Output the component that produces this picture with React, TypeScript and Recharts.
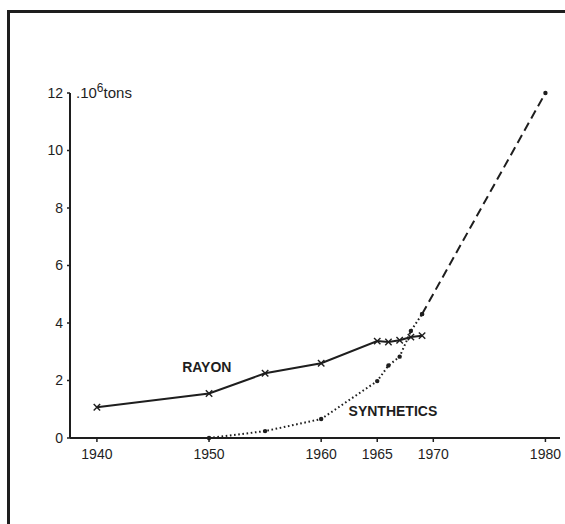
import React from "react";
import { LineChart, Line, XAxis, YAxis, ReferenceDot } from "recharts";

const years = [1940, 1950, 1955, 1960, 1965, 1966, 1967, 1968, 1969, 1980];
const rayon = [1.07, 1.55, 2.25, 2.6, 3.37, 3.34, 3.4, 3.51, 3.56, null];
const synthetics = [null, 0.0, 0.24, 0.66, 1.98, 2.52, 2.83, 3.72, 4.31, null];
const projection = [null, null, null, null, null, null, null, null, 4.31, 12];

const xTicks = [1940, 1950, 1960, 1965, 1970, 1980];
const yTicks = [0, 2, 4, 6, 8, 10, 12];

const data = years.map((year, i) => ({
  year,
  rayon: rayon[i],
  synthetics: synthetics[i],
  projection: projection[i],
}));

const FONT = "'Liberation Sans Narrow', 'Liberation Sans', sans-serif";
const INK = "#1e1e1e";

const CrossDot = (props: any) => {
  const { cx, cy } = props;
  if (cx == null || cy == null || props.value == null) return null;
  const s = 3.2;
  return (
    <g>
      <line x1={cx - s} y1={cy - s} x2={cx + s} y2={cy + s} stroke={INK} strokeWidth={1.4} />
      <line x1={cx - s} y1={cy + s} x2={cx + s} y2={cy - s} stroke={INK} strokeWidth={1.4} />
    </g>
  );
};

const SmallDot = (props: any) => {
  const { cx, cy } = props;
  if (cx == null || cy == null || props.value == null) return null;
  return <circle cx={cx} cy={cy} r={2.2} fill={INK} />;
};

const UnitLabel = (props: any) => {
  const vb = props.viewBox || {};
  const x = (vb.x ?? 0) + 6;
  const y = (vb.y ?? 0) + 5;
  return (
    <text x={x} y={y} fontFamily={FONT} fontSize={15} fill={INK}>
      .10
      <tspan dy={-6} fontSize={12}>6</tspan>
      <tspan dy={6}>tons</tspan>
    </text>
  );
};

export default function App() {
  return (
    <div style={{ position: "absolute", left: 0, top: 0, width: 565, height: 524, background: "#fff", overflow: "hidden" }}>
      <svg width={565} height={524} style={{ position: "absolute", left: 0, top: 0 }}>
        <path d="M 8.5 524 V 11.5 H 565" fill="none" stroke={INK} strokeWidth={3} />
      </svg>
      <div style={{ position: "absolute", left: 0, top: 0 }}>
        <LineChart
          width={565}
          height={524}
          data={data}
          margin={{ top: 93, right: 5, bottom: 46, left: 10 }}
        >
          <XAxis
            dataKey="year"
            type="number"
            domain={[1937.6, 1981.3]}
            ticks={xTicks}
            tickSize={4}
            tickMargin={7}
            height={40}
            axisLine={{ stroke: INK, strokeWidth: 2 }}
            tickLine={{ stroke: INK, strokeWidth: 1.5 }}
            tick={{ fontFamily: FONT, fontSize: 14, fill: INK }}
          />
          <YAxis
            type="number"
            domain={[0, 12]}
            ticks={yTicks}
            width={60}
            tickSize={3}
            tickMargin={4}
            axisLine={{ stroke: INK, strokeWidth: 2 }}
            tickLine={{ stroke: INK, strokeWidth: 1.5 }}
            tick={{ fontFamily: FONT, fontSize: 14, fill: INK }}
          />
          <Line
            dataKey="rayon"
            stroke={INK}
            strokeWidth={2}
            dot={<CrossDot />}
            activeDot={false}
            isAnimationActive={false}
            type="linear"
          />
          <Line
            dataKey="synthetics"
            stroke={INK}
            strokeWidth={2}
            strokeDasharray="1.6 2.6"
            dot={<SmallDot />}
            activeDot={false}
            isAnimationActive={false}
            type="linear"
          />
          <Line
            dataKey="projection"
            stroke={INK}
            strokeWidth={2}
            strokeDasharray="9 5"
            dot={<SmallDot />}
            activeDot={false}
            isAnimationActive={false}
            type="linear"
          />
          <ReferenceDot
            x={1949.8}
            y={2.47}
            r={0}
            fill="none"
            stroke="none"
            label={{ value: "RAYON", position: "center", fontFamily: FONT, fontSize: 14, fontWeight: "bold", fill: INK }}
          />
          <ReferenceDot
            x={1966.4}
            y={0.94}
            r={0}
            fill="none"
            stroke="none"
            label={{ value: "SYNTHETICS", position: "center", fontFamily: FONT, fontSize: 14, fontWeight: "bold", fill: INK }}
          />
          <ReferenceDot
            x={1937.6}
            y={12}
            r={0}
            fill="none"
            stroke="none"
            label={<UnitLabel />}
          />
        </LineChart>
      </div>
    </div>
  );
}
